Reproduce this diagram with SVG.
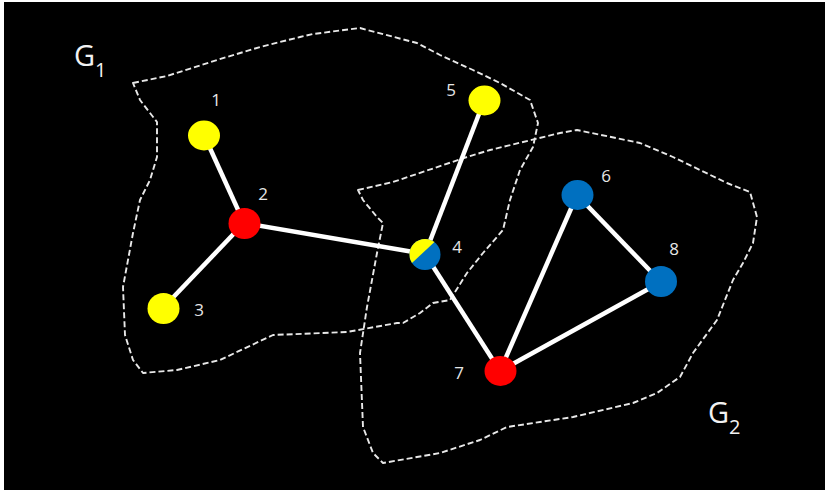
<svg xmlns="http://www.w3.org/2000/svg" width="825" height="490" viewBox="0 0 825 490">
<style>
.blob{fill:none;stroke:#e8e8e8;stroke-width:1.9;stroke-dasharray:6 3;stroke-linejoin:round}
.edge{stroke:#ffffff;stroke-width:4.5;stroke-linecap:butt}
.lbl{font-family:"Open Sans","Liberation Sans",sans-serif;font-size:17px;fill:#e6e6e6;text-anchor:middle;dominant-baseline:central}
.g{font-family:"Open Sans","Liberation Sans",sans-serif;font-size:29px;fill:#f2f2f2}
.sub{font-size:20px}
.y{fill:#ffff00}.r{fill:#ff0000}.b{fill:#0070c0}
</style>
<rect x="0" y="0" width="825" height="490" fill="#ffffff"/>
<rect x="4" y="2" width="821" height="488" fill="#000000"/>
<g id="groups">
<path id="G1-region" class="blob" d="M133,83 L167,76 L217,60 L260,47 L300,37 L313,34 L360,28 L367,30 L417,43 L440,55 L473,70 L500,83 L530,100 L538,123 L533,147 L520,170 L510,200 L503,230 L483,253 L467,273 L450,300 L433,303 L420,313 L403,323 L397,323 L347,332 L273,335 L220,360 L177,370 L143,373 L133,360 L125,335 L123,287 L133,233 L140,200 L150,180 L157,157 L157,122 L140,100 Z"/>
<path id="G2-region" class="blob" d="M358,190 L393,182 L467,157 L490,150 L560,133 L577,130 L640,143 L673,157 L727,183 L750,192 L757,217 L753,243 L743,263 L733,280 L717,320 L693,353 L680,377 L657,393 L633,403 L573,417 L507,427 L480,440 L440,453 L383,463 L373,453 L363,427 L360,353 L367,307 L377,253 L383,223 L377,217 L363,200 Z"/>
<text class="g" x="74" y="66">G<tspan class="sub" dy="11">1</tspan></text>
<text class="g" x="708" y="423">G<tspan class="sub" dy="11">2</tspan></text>
</g>
<g id="connectors">
<line class="edge" x1="204" y1="135" x2="244" y2="223"/>
<line class="edge" x1="244" y1="223" x2="163" y2="308"/>
<line class="edge" x1="244" y1="223" x2="425" y2="254"/>
<line class="edge" x1="484" y1="101" x2="425" y2="254"/>
<line class="edge" x1="425" y1="254" x2="500" y2="371"/>
<line class="edge" x1="500" y1="371" x2="577" y2="195"/>
<line class="edge" x1="577" y1="195" x2="661" y2="282"/>
<line class="edge" x1="500" y1="371" x2="661" y2="282"/>
</g>
<g id="n1"><ellipse class="y" cx="204" cy="135.5" rx="16" ry="15"/><text class="lbl" x="216" y="99">1</text></g>
<g id="n2"><ellipse class="r" cx="244.5" cy="223.5" rx="16" ry="15.5"/><text class="lbl" x="263" y="193">2</text></g>
<g id="n3"><ellipse class="y" cx="163.5" cy="308.5" rx="16" ry="15.5"/><text class="lbl" x="199" y="309">3</text></g>
<g id="n4">
<clipPath id="c4"><circle cx="425" cy="254.5" r="15.5"/></clipPath>
<g clip-path="url(#c4)">
<rect class="b" x="405" y="234" width="40" height="42"/>
<polygon class="y" points="398,276 442,235 405,228 395,240"/>
</g>
<text class="lbl" x="457" y="246">4</text></g>
<g id="n5"><ellipse class="y" cx="484.5" cy="100.5" rx="16" ry="15"/><text class="lbl" x="451" y="89">5</text></g>
<g id="n6"><ellipse class="b" cx="577.5" cy="195" rx="16" ry="15"/><text class="lbl" x="606" y="175">6</text></g>
<g id="n7"><ellipse class="r" cx="500.5" cy="371" rx="16" ry="15"/><text class="lbl" x="459" y="372">7</text></g>
<g id="n8"><ellipse class="b" cx="661" cy="281.5" rx="16" ry="15.5"/><text class="lbl" x="674" y="248">8</text></g>
</svg>
